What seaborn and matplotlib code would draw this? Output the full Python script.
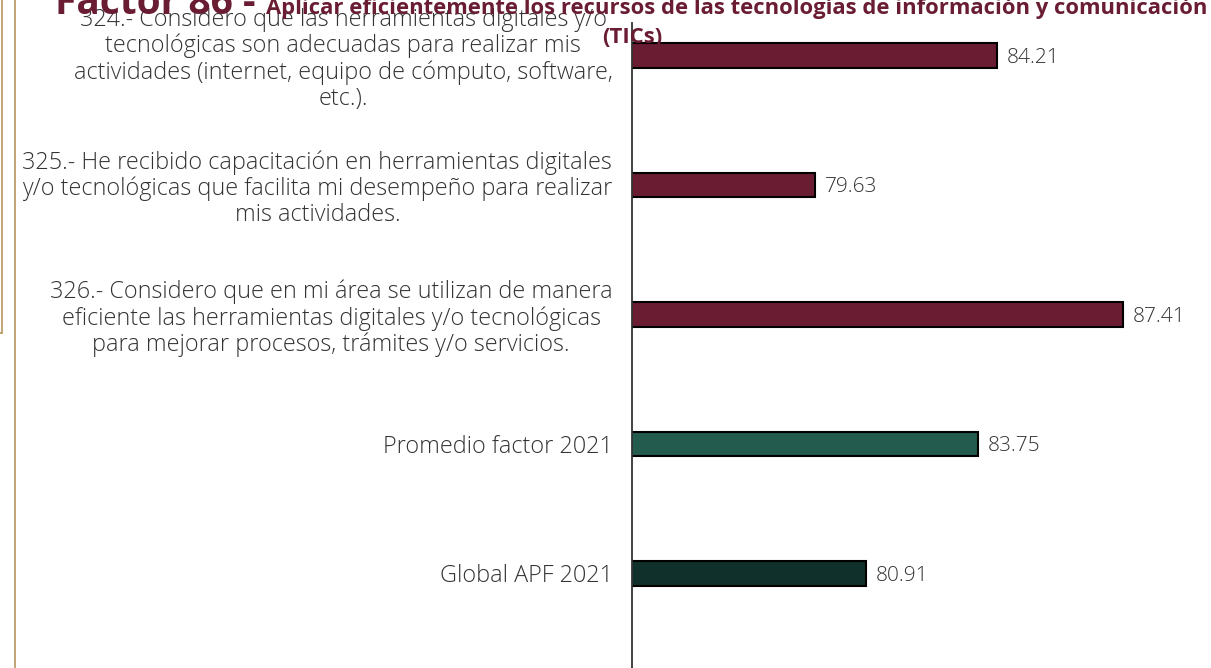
import pandas as pd
import seaborn as sns
import matplotlib.pyplot as plt
from matplotlib.lines import Line2D

# chart data
categorias = [
    "324.- Considero que las herramientas digitales y/o\ntecnológicas son adecuadas para realizar mis\nactividades (internet, equipo de cómputo, software,\netc.).",
    "325.- He recibido capacitación en herramientas digitales\ny/o tecnológicas que facilita mi desempeño para realizar\nmis actividades.",
    "326.- Considero que en mi área se utilizan de manera\neficiente las herramientas digitales y/o tecnológicas\npara mejorar procesos, trámites y/o servicios.",
    "Promedio factor 2021",
    "Global APF 2021",
]
valores = [84.21, 79.63, 87.41, 83.75, 80.91]
colores = ["#691c32", "#691c32", "#691c32", "#235b4e", "#10312b"]

titulo_factor = "Factor 86 - "
titulo_texto = "Aplicar eficientemente los recursos de las tecnologías de información y comunicación"
titulo_linea2 = "(TICs)"

sns.set_style("white")
plt.rcParams["font.family"] = ["Open Sans", "DejaVu Sans"]

W, H = 1211, 668
fig = plt.figure(figsize=(W / 100, H / 100), dpi=100)
ax = fig.add_axes([632 / W, 1 - 670.5 / H, (W - 632) / W, 647.5 / H])

df = pd.DataFrame({"cat": categorias, "val": valores})
sns.barplot(data=df, x="val", y="cat", hue="cat", palette=colores, legend=False,
            saturation=1, width=0.19, edgecolor="black", linewidth=1.5, ax=ax, orient="h")

ax.set_xlim(75, 75 + (W - 632) / 39.59)
ax.set_ylim(4.75, -0.25)
ax.set_xlabel("")
ax.set_ylabel("")
ax.set_xticks([])

# labels at bar centers, tick marks between
pos = list(range(len(categorias)))
ax.set_yticks(pos)
ax.set_yticklabels(categorias, ha="right", multialignment="center",
                   fontsize=16.8, fontweight="light", color="#333333", linespacing=1.1)
ax.tick_params(axis="y", which="major", length=0, pad=14)
marcas = [p + d for p in pos for d in (-0.25, 0.25)] + [4.75]
ax.set_yticks(marcas, minor=True)
ax.tick_params(axis="y", which="minor", length=7, width=1.2, color="#333333", direction="out")

for s in ["top", "right", "bottom"]:
    ax.spines[s].set_visible(False)
ax.spines["left"].set_color("#333333")
ax.spines["left"].set_linewidth(1.3)

for p, v in zip(pos, valores):
    ax.annotate(f"{v:.2f}", (v, p), xytext=(7, 0), textcoords="offset points",
                va="center_baseline", ha="left", fontsize=15, fontweight="light",
                color="#333333")

# title, mixed sizes, centered
fig.canvas.draw()
r = fig.canvas.get_renderer()
t1 = fig.text(0, 1 - 14 / H, titulo_factor, fontsize=28, fontweight="bold",
              color="#691c32", va="baseline", ha="left")
t2 = fig.text(0, 1 - 14 / H, titulo_texto, fontsize=15.8, fontweight="bold",
              color="#691c32", va="baseline", ha="left")
w1 = t1.get_window_extent(r).width
w2 = t2.get_window_extent(r).width
x0 = 631 - (w1 + w2) / 2
t1.set_x(x0 / W)
t2.set_x((x0 + w1) / W)
fig.text(632 / W, 1 - 43 / H, titulo_linea2, fontsize=15.8, fontweight="bold",
         color="#691c32", va="baseline", ha="center")

# decorative frame lines on the left
oro = "#b8955a"
fig.add_artist(Line2D([15 / W, 15 / W], [0, 1], color=oro, lw=1.2))
fig.add_artist(Line2D([2 / W, 2 / W], [1 - 333 / H, 1], color=oro, lw=1.2))
fig.add_artist(Line2D([0, 2 / W], [1 - 333 / H, 1 - 333 / H], color=oro, lw=1.2))

fig.savefig("out.png", dpi=100)
